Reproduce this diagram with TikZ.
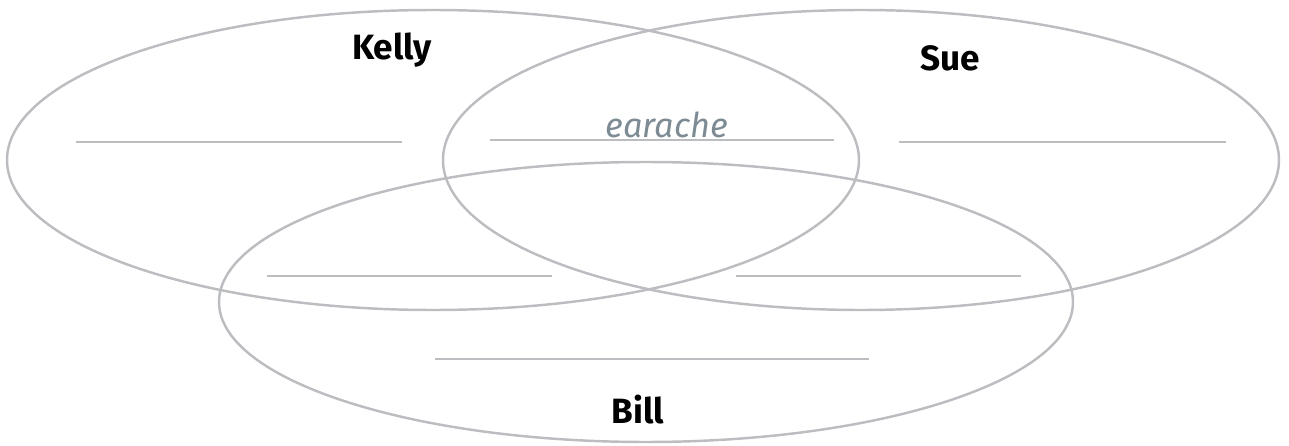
\documentclass[tikz,border=0pt]{standalone}
\usepackage{fontspec}
\setmainfont{Fira Sans}
\usepackage{xcolor}
\definecolor{linegray}{HTML}{BCBDC0}
\definecolor{notegray}{HTML}{7D8B94}

\begin{document}
\begin{tikzpicture}[x=0.02cm, y=-0.02cm,
    setline/.style={draw=linegray, line width=1.4pt},
    blank/.style={draw=linegray, line width=1.2pt},
    setname/.style={font=\bfseries\fontsize{20}{24}\selectfont, text=black, anchor=base, inner sep=0pt},
    note/.style={font=\itshape\fontsize{19.5}{24}\selectfont, text=notegray, anchor=base, inner sep=0pt}]
    \useasboundingbox (0,0) rectangle (1289,446);

    % The three sets
    \draw[setline] (433,160) ellipse [x radius=426, y radius=150];
    \draw[setline] (861,160) ellipse [x radius=418, y radius=150];
    \draw[setline] (646,302) ellipse [x radius=427, y radius=140];

    % Blank lines to write on
    \foreach \xa/\xb/\y in {76/402/142, 490/834/140, 899/1226/142,
                            267/552/276, 736/1021/276, 435/869/359}
        \draw[blank] (\xa,\y) -- (\xb,\y);

    % Names and the example answer
    \node[setname] (kelly) at (392,60) {Kelly};
    \node[setname] (sue) at (950,71) {Sue};
    \node[setname] (bill) at (638,423) {Bill};
    \node[note] (earache) at (667,138) {earache};

\end{tikzpicture}
\end{document}
